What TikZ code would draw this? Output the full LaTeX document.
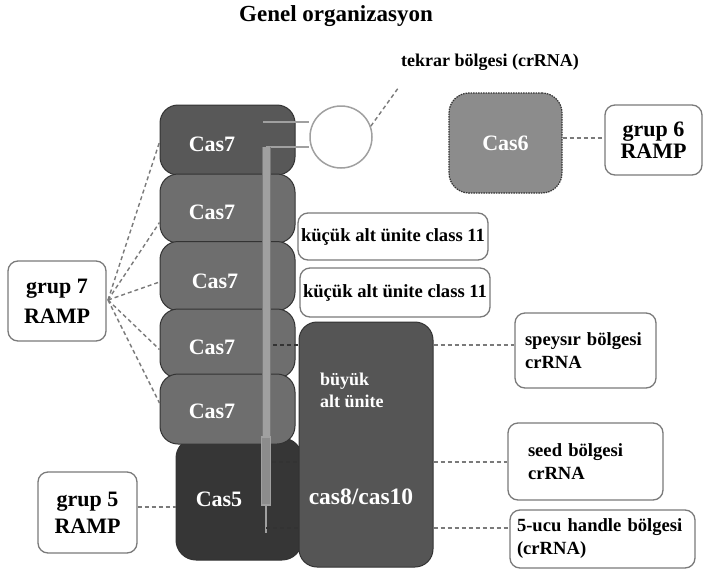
\documentclass[tikz,border=0pt]{standalone}
\usepackage{fontspec}
\setmainfont{Liberation Serif}
\usetikzlibrary{calc}
\definecolor{casA}{HTML}{585858}
\definecolor{casB}{HTML}{6E6E6E}
\definecolor{casV}{HTML}{363636}
\definecolor{casE}{HTML}{555555}
\definecolor{casS}{HTML}{8C8C8C}
\definecolor{edgeD}{HTML}{333333}
\definecolor{lbl}{HTML}{7A7A7A}
\definecolor{rna}{HTML}{A0A0A0}
\begin{document}
\begin{tikzpicture}[x=1pt,y=-1pt,
  prot/.style={draw=edgeD,line width=1pt,rounded corners=18pt},
  lab/.style={draw=lbl,fill=white,line width=1.3pt,rounded corners=10pt,font=\fontsize{18.6}{23}\selectfont\bfseries,inner sep=0pt},
  big/.style={font=\fontsize{22}{24}\selectfont\bfseries,text=white},
  dsh/.style={draw=lbl,line width=1.4pt,dash pattern=on 4pt off 3pt},
  ddk/.style={draw=edgeD,line width=1.4pt,dash pattern=on 4pt off 3pt}]
\useasboundingbox (0,0) rectangle (705,574);
\fill[white] (0,0) rectangle (705,574);

% title and upper label
\node[font=\fontsize{23}{26}\selectfont\bfseries] (title) at (336,16) {Genel organizasyon};
\node[font=\fontsize{18}{20}\selectfont\bfseries] (tekrar) at (490,62) {tekrar bölgesi (crRNA)};

% Cas5 and cas8/cas10
\node[prot,fill=casV,minimum width=126pt,minimum height=122pt,rounded corners=20pt] (c5) at (239,499) {};
\node[prot,fill=casE,minimum width=134pt,minimum height=245pt] (c8) at (366,444.5) {};

% Cas7 stack
\node[prot,fill=casA,minimum width=135pt,minimum height=70pt] (c71) at (227.5,140) {};
\node[prot,fill=casB,minimum width=135pt,minimum height=69pt] (c72) at (227.5,208.5) {};
\node[prot,fill=casB,minimum width=135pt,minimum height=69pt] (c73) at (227.5,276) {};
\node[prot,fill=casB,minimum width=135pt,minimum height=69pt] (c74) at (227.5,343.5) {};
\node[prot,fill=casB,minimum width=135pt,minimum height=70pt] (c75) at (227.5,409) {};

\node[big] (t71) at (212,144) {Cas7};
\node[big] (t72) at (212,212) {Cas7};
\node[big] (t73) at (215,281) {Cas7};
\node[big] (t74) at (212,347) {Cas7};
\node[big] (t75) at (212,411) {Cas7};
\node[big] (t5) at (219,499) {Cas5};
\node[big,font=\fontsize{23.5}{26}\selectfont\bfseries] (t8) at (361,497) {cas8/cas10};
\node[font=\fontsize{18}{22}\selectfont\bfseries,text=white,align=left,anchor=north west,inner sep=0pt] (tbig) at (320,373) {büyük\\alt ünite};

% crRNA: circle and rod
\node[draw=rna,line width=1.5pt,circle,minimum size=62pt,inner sep=0pt] (loop) at (341,137) {};
\coordinate (r1a) at (263,122);
\coordinate (r2a) at (266,147);
\draw[rna,line width=2.5pt] (r1a) -- (loop.west |- r1a);
\draw[rna,line width=2.5pt] (r2a) -- (loop.west |- r2a);
\fill[rna] (262,147) rectangle (270,437);
\draw[draw=lbl,line width=0.6pt] (262,147) -- (262,437) (270,147) -- (270,437);
\draw[draw=rna,fill=casS,line width=1.2pt] (261.5,437) rectangle (270.5,505);
\draw[rna,line width=1.2pt] (266,505) -- (266,533);

% inner dashed markers
\coordinate (m1) at (273,345);
\coordinate (m2) at (272,462);
\coordinate (m3) at (266,528);
\draw[ddk] (m1) -- (c8.west |- m1);
\draw[ddk] (m2) -- (c8.west |- m2);
\draw[ddk] (m3) -- (c8.west |- m3);

% Cas6
\node[draw=edgeD,dash pattern=on 1.5pt off 1pt,line width=1.2pt,fill=casS,rounded corners=20pt,minimum width=113pt,minimum height=100pt,font=\fontsize{22}{24}\selectfont\bfseries,text=white] (c6) at (505.5,143) {Cas6};

% label boxes
\node[lab,minimum width=97pt,minimum height=70pt,align=center,font=\fontsize{22}{22}\selectfont\bfseries] (g6) at (653.5,140) {grup 6\\RAMP};
\node[lab,minimum width=98pt,minimum height=80pt,align=center,font=\fontsize{22}{30}\selectfont\bfseries] (g7) at (57,301) {grup 7\\RAMP};
\node[lab,minimum width=99pt,minimum height=81pt,align=center,font=\fontsize{22}{27}\selectfont\bfseries] (g5) at (87.5,512.5) {grup 5\\RAMP};
\node[lab,minimum width=190pt,minimum height=47pt] (k1) at (393,236.5) {küçük alt ünite class 11};
\node[lab,minimum width=190pt,minimum height=49pt] (k2) at (395,292.5) {küçük alt ünite class 11};
\node[lab,minimum width=141pt,minimum height=75pt,text width=121pt,inner xsep=10pt,align=left] (sp) at (585.5,350.5) {\mbox{speysır bölgesi}\\crRNA};
\node[lab,minimum width=155pt,minimum height=77pt,text width=115pt,inner xsep=20pt,align=left] (sd) at (585.5,461.5) {\mbox{seed bölgesi}\\crRNA};
\node[lab,minimum width=185pt,minimum height=58pt,text width=171pt,inner xsep=7pt,align=left] (hd) at (602.5,539) {\mbox{5-ucu handle bölgesi}\\(crRNA)};

% dashed connectors
\draw[dsh] (loop.20) -- ($(loop.20)+(28,-39)$) coordinate (tk);
\draw[dsh] ($(c6.east)+(0,-5)$) -- ($(g6.west |- c6.east)+(0,-5)$);
\coordinate (fan) at (108,300);
\draw[dsh] (fan) -- ($(c71.west)+(0,2)$);
\draw[dsh] (fan) -- ($(c72.west)+(0,14)$);
\draw[dsh] (fan) -- ($(c73.west)+(0,6)$);
\draw[dsh] (fan) -- ($(c74.west)+(0,6)$);
\draw[dsh] (fan) -- ($(c75.west)+(0,-6)$);
\draw[dsh] (g5.east |- 0,507) -- (c5.west |- 0,507);
\draw[dsh] (c8.east |- m1) -- (sp.west |- m1);
\draw[dsh] (c8.east |- m2) -- (sd.west |- m2);
\draw[dsh] (c8.east |- m3) -- (hd.west |- m3);
\end{tikzpicture}
\end{document}
